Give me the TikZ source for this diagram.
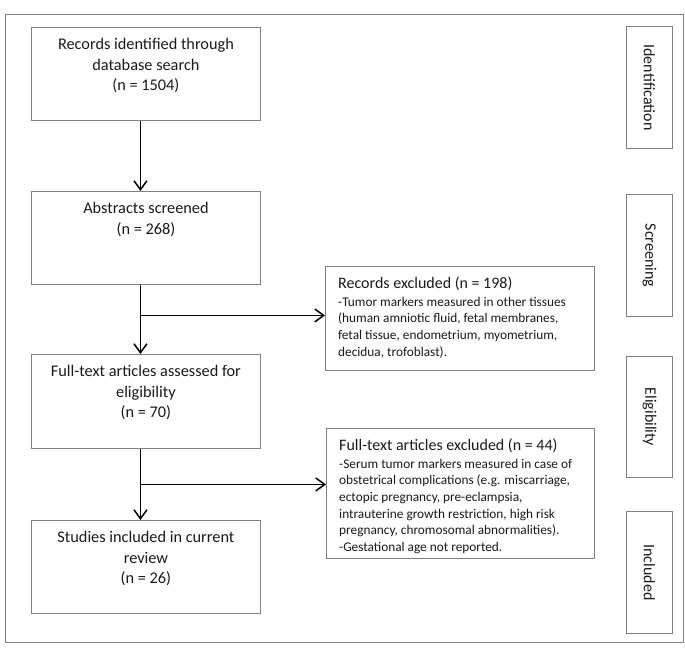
\documentclass[tikz,border=0pt]{standalone}
\usepackage{fontspec}
\setmainfont{Carlito}
\usetikzlibrary{arrows.meta}
\definecolor{boxgray}{HTML}{808080}
\definecolor{txt}{HTML}{1A1A1A}
\tikzset{
  box/.style={draw=boxgray, line width=0.9pt, rectangle, inner sep=0, anchor=north west},
  maintxt/.style={font=\fontsize{16.3}{20.5}\selectfont, text=txt, align=center, anchor=north, inner sep=0},
  extitle/.style={font=\fontsize{16}{19}\selectfont, text=txt, align=left, anchor=north west, inner sep=0},
  exdetail/.style={font=\fontsize{13.3}{16.6}\selectfont, text=txt, align=left, anchor=north west, inner sep=0},
  stagetxt/.style={font=\fontsize{16}{19}\selectfont, text=txt, rotate=-90, inner sep=0},
  arr/.style={draw=black, line width=1.8pt, -{Straight Barb[length=9pt,width=13pt,line width=1.5pt]}},
}
\begin{document}
\begin{tikzpicture}[x=1pt,y=-1pt]
\path[use as bounding box] (0,0) rectangle (685,653);
% outer frame
\node[box, minimum width=678.5pt, minimum height=628pt] (frame) at (4.5,14) {};

% main boxes
\node[box, minimum width=229pt, minimum height=93pt] (b1) at (31,27) {};
\node[maintxt] (t1) at ([yshift=-11]b1.north) {Records identified through\\database search\\(n = 1504)};

\node[box, minimum width=229pt, minimum height=93pt] (b2) at (31,191) {};
\node[maintxt] (t2) at ([yshift=-11]b2.north) {Abstracts screened\\(n = 268)};

\node[box, minimum width=229pt, minimum height=94pt] (b3) at (31,354) {};
\node[maintxt] (t3) at ([yshift=-11]b3.north) {Full-text articles assessed for\\eligibility\\(n = 70)};

\node[box, minimum width=229pt, minimum height=93pt] (b4) at (31,520) {};
\node[maintxt] (t4) at ([yshift=-11]b4.north) {Studies included in current\\review\\(n = 26)};

% exclusion boxes
\node[box, minimum width=269pt, minimum height=104pt] (e1) at (325,266) {};
\node[extitle] (e1t) at ([xshift=13,yshift=-11]e1.north west) {Records excluded (n = 198)};
\node[exdetail] (e1d) at ([yshift=-5.5]e1t.south west) {-Tumor markers measured in other tissues\\(human amniotic fluid, fetal membranes,\\fetal tissue, endometrium, myometrium,\\decidua, trofoblast).};

\node[box, minimum width=268pt, minimum height=130pt] (e2) at (326,428) {};
\node[extitle] (e2t) at ([xshift=13,yshift=-11]e2.north west) {Full-text articles excluded (n = 44)};
\node[exdetail] (e2d) at ([yshift=-5.5]e2t.south west) {-Serum tumor markers measured in case of\\obstetrical complications (e.g. miscarriage,\\ectopic pregnancy, pre-eclampsia,\\intrauterine growth restriction, high risk\\pregnancy, chromosomal abnormalities).\\-Gestational age not reported.};

% stage boxes
\node[box, minimum width=46pt, minimum height=122pt] (s1) at (626,26) {};
\node[stagetxt] (s1t) at (s1.center) {Identification};
\node[box, minimum width=46pt, minimum height=122pt] (s2) at (626,194) {};
\node[stagetxt] (s2t) at (s2.center) {Screening};
\node[box, minimum width=46pt, minimum height=121pt] (s3) at (626,356) {};
\node[stagetxt] (s3t) at (s3.center) {Eligibility};
\node[box, minimum width=46pt, minimum height=122pt] (s4) at (626,511) {};
\node[stagetxt] (s4t) at (s4.center) {Included};

% connectors
\coordinate (j1) at ([xshift=-5.5,yshift=3]e1.west -| b2.south);
\coordinate (j2) at ([xshift=-5.5,yshift=9]e2.west -| b3.south);
\draw[arr] ([xshift=-5.5]b1.south) -- ([xshift=-5.5]b2.north);
\draw[arr] ([xshift=-5.5]b2.south) -- ([xshift=-5.5]b3.north);
\draw[arr] ([xshift=-5.5]b3.south) -- ([xshift=-5.5]b4.north);
\draw[arr] (j1) -- (j1 -| e1.west);
\draw[arr] (j2) -- (j2 -| e2.west);
\end{tikzpicture}
\end{document}
